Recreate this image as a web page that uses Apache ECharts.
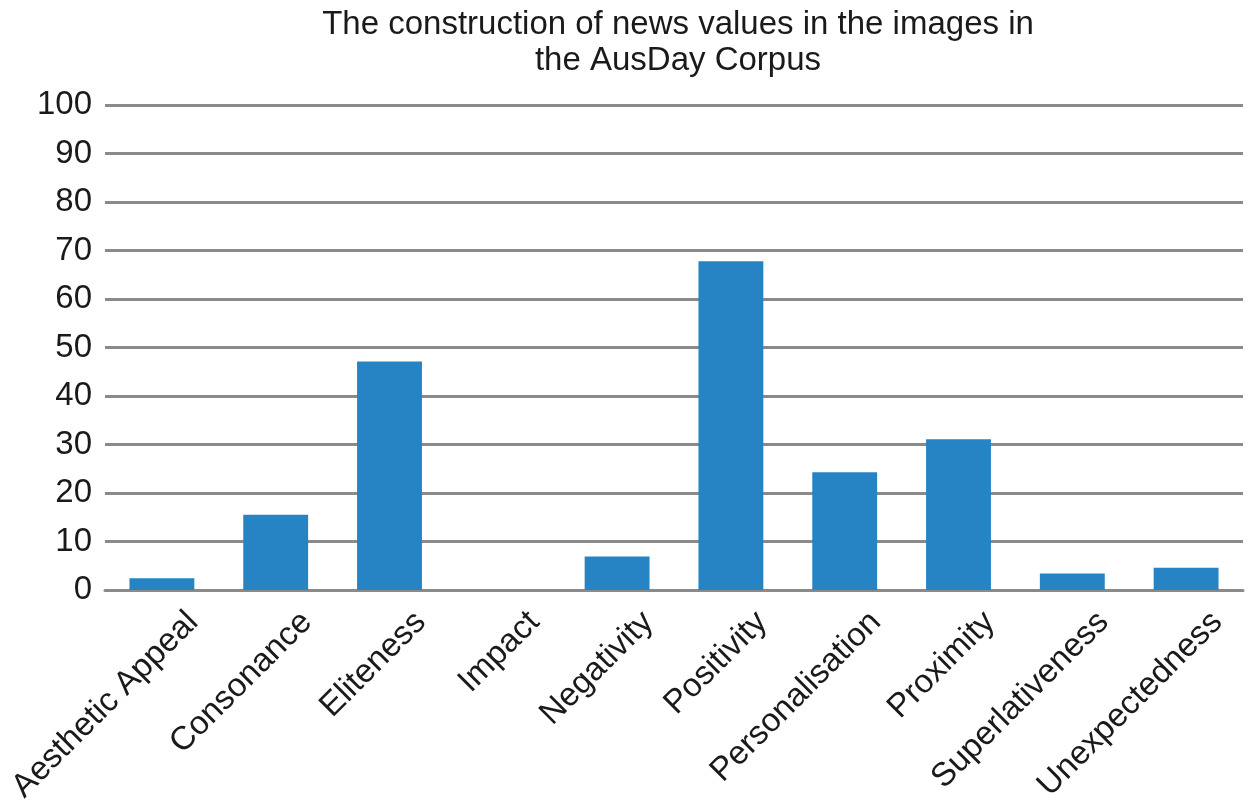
<!DOCTYPE html>
<html lang="en">
<head>
<meta charset="UTF-8">
<title>News values</title>
<script src="https://cdn.jsdelivr.net/npm/echarts@6/dist/echarts.min.js"></script>
<style>
  html, body { margin: 0; padding: 0; background: #fff; }
  #chart { width: 1256px; height: 805px; }
</style>
</head>
<body>
<div id="chart"></div>
<script>
var categories = ['Aesthetic Appeal', 'Consonance', 'Eliteness', 'Impact', 'Negativity',
  'Positivity', 'Personalisation', 'Proximity', 'Superlativeness', 'Unexpectedness'];
var values = [2.4, 15.5, 47.1, 0, 6.9, 67.8, 24.3, 31.1, 3.4, 4.6];
var titleLines = ['The construction of news values in the images in', 'the AusDay Corpus'];

var font = '"Liberation Sans", Arial, Helvetica, sans-serif';
var chart = echarts.init(document.getElementById('chart'));
chart.setOption({
  animation: false,
  title: {
    text: titleLines.join('\n'),
    left: 673,
    textAlign: 'center',
    top: 2,
    textStyle: { fontFamily: font, fontSize: 33, fontWeight: 'normal', color: '#1a1a1a', lineHeight: 36 }
  },
  grid: { left: 105, right: 13, top: 105, bottom: 215, containLabel: false, outerBoundsMode: 'none' },
  xAxis: {
    type: 'category',
    data: categories,
    axisLine: { lineStyle: { color: '#8a8a8a', width: 3 } },
    axisTick: { show: false },
    axisLabel: {
      rotate: 45,
      interval: 0,
      margin: -4,
      align: 'right',
      verticalAlign: 'top',
      lineHeight: 88,
      fontFamily: font,
      fontSize: 33,
      color: '#1a1a1a'
    }
  },
  yAxis: {
    type: 'value',
    min: 0,
    max: 100,
    interval: 10,
    axisLine: { show: false },
    axisTick: { show: false },
    axisLabel: { margin: 13, fontFamily: font, fontSize: 33, color: '#1a1a1a' },
    splitLine: { lineStyle: { color: '#8a8a8a', width: 3 } }
  },
  series: [{
    type: 'bar',
    data: values,
    barWidth: '57%',
    itemStyle: { color: '#2683c4' }
  }]
});
</script>
</body>
</html>
